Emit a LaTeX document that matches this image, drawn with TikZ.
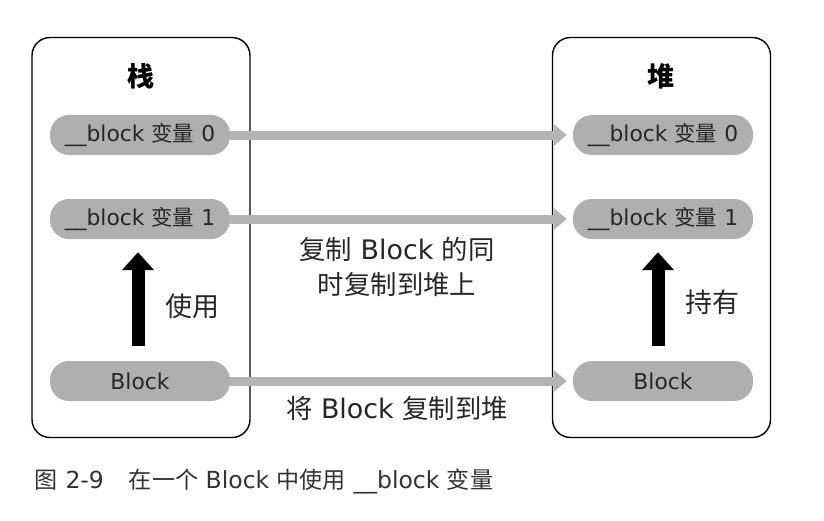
\documentclass[tikz,border=0pt]{standalone}
\usepackage{fontspec}
\setmainfont{DejaVu Sans}[Scale=1.12]
\newfontfamily\cjk{Noto Sans CJK SC}[Scale=1.1]
\newcommand\zh[1]{{\cjk #1}}
\usetikzlibrary{arrows.meta,positioning}
\definecolor{pillgray}{HTML}{AFAFAF}
\definecolor{linkgray}{HTML}{B4B4B4}
\definecolor{capgray}{HTML}{333333}

\begin{document}
\begin{tikzpicture}[x=1pt, y=-1pt,
  mem/.style={draw=black, line width=1.4pt, rounded corners=18pt, minimum width=218pt, minimum height=400pt},
  pill/.style={fill=pillgray, rounded corners=19pt, minimum width=180pt, minimum height=40pt, inner sep=0pt, text=black!85, font=\fontsize{19.5}{22}\selectfont},
  title/.style={font=\fontsize{24.5}{30}\selectfont\cjk\bfseries},
  note/.style={font=\fontsize{24}{35}\selectfont, align=center, text=black!85},
  side/.style={font=\fontsize{24.5}{30}\selectfont\cjk, text=black!85},
  copyline/.style={-{Triangle[length=13pt,width=21pt]}, line width=9pt, linkgray, shorten >=6pt},
  holds/.style={-{Triangle[length=18pt,width=31pt]}, line width=13pt, black, shorten <=15pt, shorten >=13pt}
]
\useasboundingbox (0,0) rectangle (824,520);

% stack side
\node[mem] (stack) at (141,237.5) {};
\node[title] (stacktitle) at (141,76) {栈};
\node[pill] (s0) at (140,135) {\_\_block \zh{变量} 0};
\node[pill] (s1) at (140,219) {\_\_block \zh{变量} 1};
\node[pill] (sb) at (140,381) {Block};
\node[side] (uselabel) at (192,306) {使用};

% heap side
\node[mem] (heap) at (661.5,237.5) {};
\node[title] (heaptitle) at (661,76) {堆};
\node[pill] (h0) at (663,135) {\_\_block \zh{变量} 0};
\node[pill] (h1) at (663,219) {\_\_block \zh{变量} 1};
\node[pill] (hb) at (663,381) {Block};
\node[side] (holdlabel) at (712,302) {持有};

% copies
\draw[copyline] (s0.east) -- (h0.west);
\draw[copyline] (s1.east) -- (h1.west);
\draw[copyline] (sb.east) -- (hb.west);
\node[note] (midnote) at (397,267) {\zh{复制} Block \zh{的同}\\\zh{时复制到堆上}};
\node[note] (copynote) at (397,408) {\zh{将} Block \zh{复制到堆}};

\draw[holds] ([xshift=-2pt]sb.north) -- ([xshift=-2pt]s1.south);
\draw[holds] ([xshift=-5pt]hb.north) -- ([xshift=-5pt]h1.south);

% caption
\node[anchor=west, text=capgray, font=\fontsize{21}{22}\selectfont] (caption) at (31,481) {\zh{图} 2-9\hspace{25pt}\zh{在一个} Block \zh{中使用} \_\_block \zh{变量}};
\end{tikzpicture}
\end{document}
